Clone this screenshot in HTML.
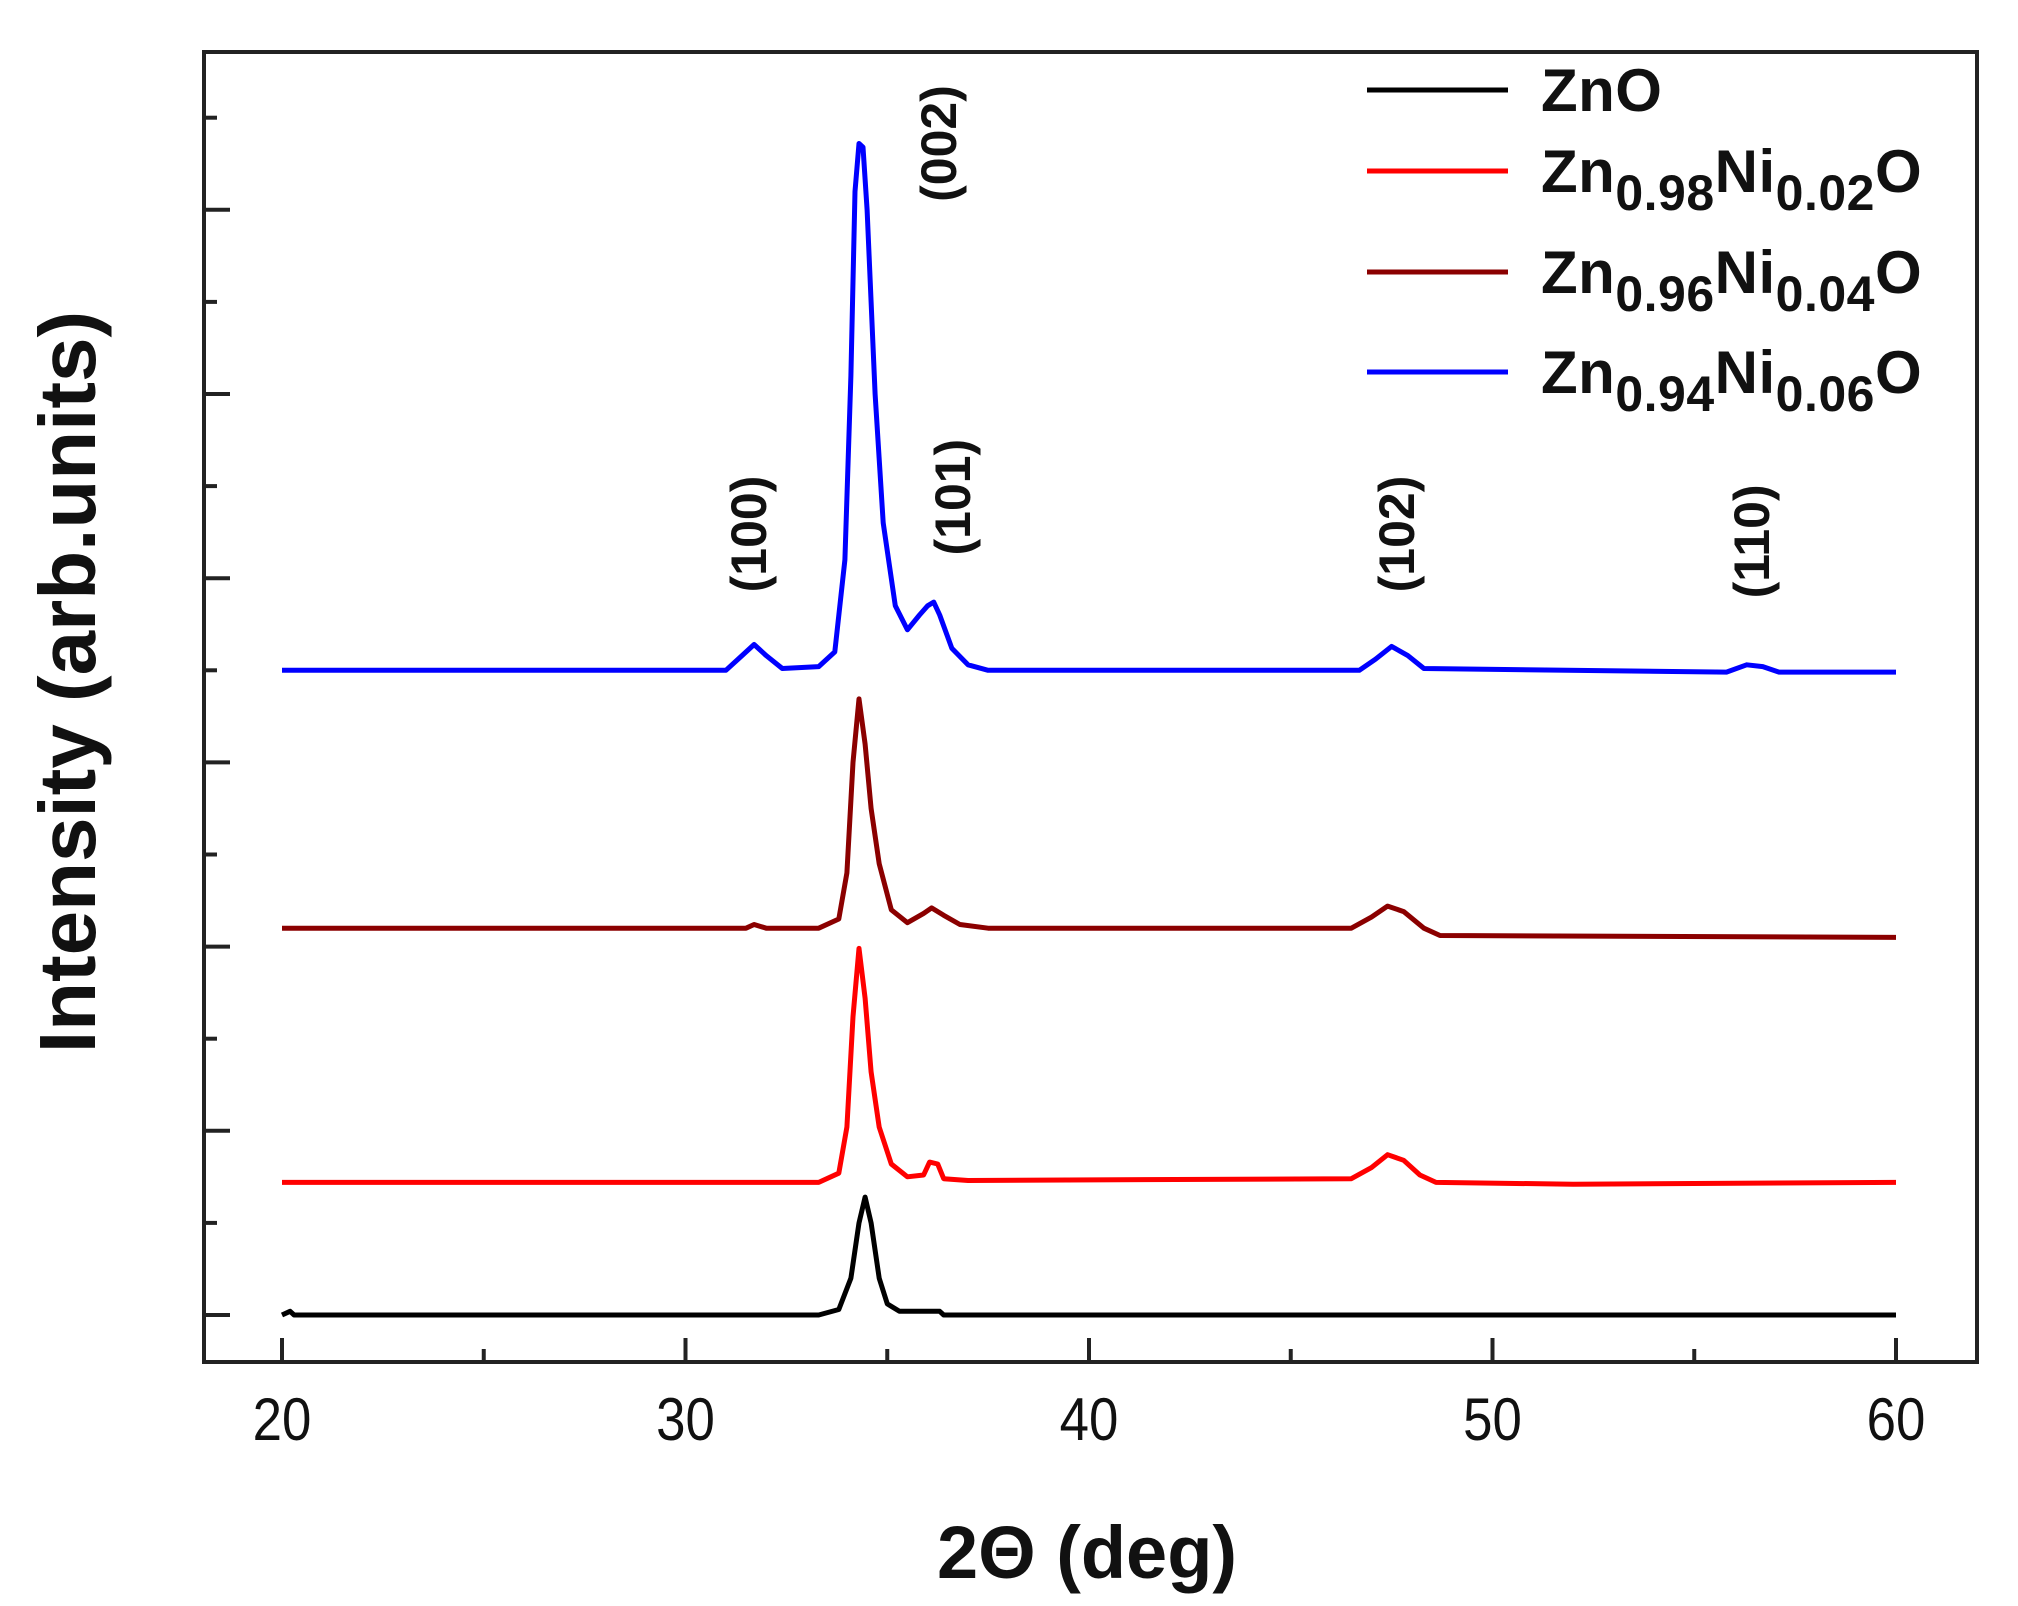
<!DOCTYPE html>
<html><head><meta charset="utf-8"><style>
html,body{margin:0;padding:0;background:#fff;}
svg{display:block;font-family:"Liberation Sans",sans-serif;}
</style></head><body>
<svg id="chart" width="2018" height="1606" viewBox="0 0 2018 1606" xmlns="http://www.w3.org/2000/svg">
<rect x="0" y="0" width="2018" height="1606" fill="#fff"/>
<g id="plot"></g>
<g id="axes"></g>
<text transform="translate(95,682) rotate(-90)" text-anchor="middle" font-size="80" font-weight="bold" fill="#111">Intensity (arb.units)</text>
<text x="1087" y="1578" text-anchor="middle" font-size="74" font-weight="bold" fill="#111">2Θ (deg)</text>
<g id="legend"></g>
</svg>
<script>
const xTicks=[20,30,40,50,60];
const xMinor=[25,35,45,55];
const yTicks=[0,1,2,3,4,5,6];
const seriesNames=["ZnO","Zn0.98Ni0.02O","Zn0.96Ni0.04O","Zn0.94Ni0.06O"];
const seriesColors=["#000000","#ff0000","#8b0000","#0000ff"];
const seriesOffsets=[0,0.72,2.10,3.50];
const znoData=[[20,0],[20.2,0.02],[20.3,0],[33.3,0],[33.8,0.03],[34.1,0.2],[34.3,0.5],[34.45,0.64],[34.6,0.5],[34.8,0.2],[35.0,0.06],[35.3,0.02],[36.3,0.02],[36.4,0],[60,0]];
const ni02Data=[[20,0],[33.3,0],[33.8,0.05],[34.0,0.3],[34.15,0.9],[34.3,1.27],[34.45,1.0],[34.6,0.6],[34.8,0.3],[35.1,0.1],[35.5,0.03],[35.9,0.04],[36.05,0.11],[36.25,0.1],[36.4,0.02],[37,0.01],[46.5,0.02],[47.0,0.08],[47.4,0.15],[47.8,0.12],[48.2,0.04],[48.6,0.0],[52,-0.01],[60,0]];
const ni04Data=[[20,0],[31.5,0],[31.7,0.02],[32,0],[33.3,0],[33.8,0.05],[34.0,0.3],[34.15,0.9],[34.3,1.245],[34.45,1.0],[34.6,0.65],[34.8,0.35],[35.1,0.1],[35.5,0.03],[35.9,0.08],[36.1,0.11],[36.4,0.07],[36.8,0.02],[37.5,0],[46.5,0],[47.0,0.06],[47.4,0.12],[47.8,0.09],[48.3,0.0],[48.7,-0.04],[60,-0.05]];
const ni06Data=[[20,0],[31.0,0],[31.4,0.08],[31.7,0.14],[32.0,0.08],[32.4,0.01],[33.3,0.02],[33.7,0.1],[33.95,0.6],[34.1,1.6],[34.2,2.6],[34.3,2.86],[34.4,2.84],[34.5,2.5],[34.7,1.5],[34.9,0.8],[35.2,0.35],[35.5,0.22],[35.8,0.3],[36.0,0.35],[36.15,0.37],[36.3,0.3],[36.6,0.12],[37.0,0.03],[37.5,0],[46.7,0],[47.1,0.06],[47.5,0.13],[47.9,0.08],[48.3,0.01],[55.8,-0.01],[56.3,0.03],[56.7,0.02],[57.1,-0.01],[60,-0.01]];
const seriesData=[znoData,ni02Data,ni04Data,ni06Data];
const peakLabels=["(100)","(002)","(101)","(102)","(110)"];
const peakLabelX=[32.0,36.7,37.05,48.05,56.85];
const peakLabelY=[4.24,6.36,4.44,4.24,4.2];

const NS="http://www.w3.org/2000/svg";
const X0=204,X1=1977,Y0=52,Y1=1362;
function sx(v){return 282+(v-20)*(1896-282)/40;}
function sy(v){return 1315-v*184.2;}
function mk(tag,attrs,parent){const e=document.createElementNS(NS,tag);for(const k in attrs)e.setAttribute(k,attrs[k]);parent.appendChild(e);return e;}
const plot=document.getElementById('plot'),axes=document.getElementById('axes'),legend=document.getElementById('legend');

seriesData.forEach((d,i)=>{
  const pts=d.map(p=>sx(p[0]).toFixed(1)+","+sy(p[1]+seriesOffsets[i]).toFixed(1)).join(" ");
  const pl=mk('polyline',{points:pts,fill:'none',stroke:seriesColors[i],'stroke-width':5,'stroke-linejoin':'round'},plot);
  
  
});

peakLabels.forEach((t,i)=>{
  const e=mk('text',{transform:`translate(${sx(peakLabelX[i])},${sy(peakLabelY[i])}) rotate(-90)`,'text-anchor':'middle','font-size':50,'font-weight':'bold',fill:'#111'},plot);
  e.textContent=t;
  
  
});

const frame=mk('rect',{x:X0,y:Y0,width:X1-X0,height:Y1-Y0,fill:'none',stroke:'#222','stroke-width':4},axes);


xTicks.forEach(v=>{
  const l=mk('line',{x1:sx(v),x2:sx(v),y1:Y1,y2:Y1-24,stroke:'#222','stroke-width':4},axes);
  
  
  const t=mk('text',{x:0,y:0,transform:`translate(${sx(v)},1440) scale(0.88,1)`,'text-anchor':'middle','font-size':60,fill:'#111'},axes);
  t.textContent=v;
  
  
});
xMinor.forEach(v=>{
  const l=mk('line',{x1:sx(v),x2:sx(v),y1:Y1,y2:Y1-13,stroke:'#222','stroke-width':4},axes);
  
  
});
yTicks.forEach(v=>{
  const l=mk('line',{x1:X0,x2:X0+26,y1:sy(v),y2:sy(v),stroke:'#222','stroke-width':4},axes);
  
  
  const m=mk('line',{x1:X0,x2:X0+13,y1:sy(v+0.5),y2:sy(v+0.5),stroke:'#222','stroke-width':4},axes);
  
  
});

const legY=[90,171,272,372];
const legText=[["ZnO"],["Zn","0.98","Ni","0.02","O"],["Zn","0.96","Ni","0.04","O"],["Zn","0.94","Ni","0.06","O"]];
legText.forEach((parts,i)=>{
  const l=mk('line',{x1:1367,x2:1508,y1:legY[i],y2:legY[i],stroke:seriesColors[i],'stroke-width':5},legend);
  
  
  const t=mk('text',{x:1541,y:legY[i]+21,'font-size':60,'font-weight':'bold',fill:'#111','letter-spacing':0.5},legend);
  
  
  parts.forEach((p,j)=>{
    const s=mk('tspan',{},t);
    if(j%2===1){s.setAttribute('font-size','50');s.setAttribute('dy','18');}
    else if(j>0){s.setAttribute('dy','-18');}
    s.textContent=p;
  });
});
</script>
</body></html>
